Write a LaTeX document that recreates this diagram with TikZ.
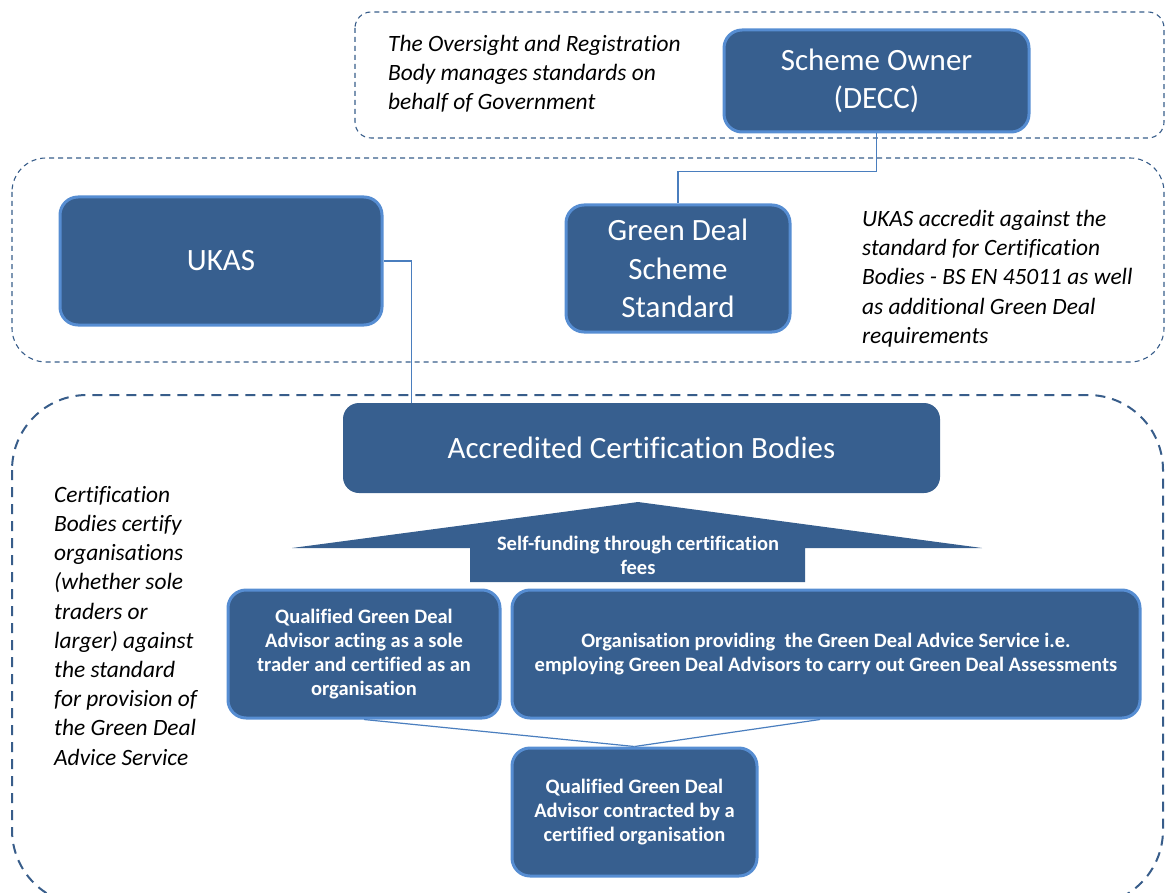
\documentclass[tikz,border=0pt]{standalone}
\usepackage{fontspec}
\setmainfont{Carlito}[Ligatures=NoCommon]
\begin{document}
\begin{tikzpicture}[x=1pt,y=-1pt,
  dk/.style={fill=boxblue,draw=edgeblue,line width=3pt,rounded corners=18pt,text=white,align=center,inner sep=0pt,outer sep=1.5pt},
  plain/.style={fill=boxblue,rounded corners=16pt,text=white,align=center,inner sep=0pt},
  big/.style={font=\fontsize{31}{38.5}\selectfont},
  small/.style={font=\fontsize{20.5}{24}\selectfont\bfseries},
  note/.style={font=\fontsize{23.4}{29.2}\selectfont\itshape,align=left,anchor=north west,inner sep=0pt},
  thindash/.style={draw=dashblue,line width=1.1pt,dash pattern=on 5pt off 4pt},
  thickdash/.style={draw=dashblue,line width=2pt,dash pattern=on 10pt off 7pt},
  conn/.style={draw=lineblue,line width=1.2pt}]
\definecolor{boxblue}{RGB}{55,95,143}
\definecolor{edgeblue}{RGB}{86,141,210}
\definecolor{dashblue}{RGB}{56,93,138}
\definecolor{lineblue}{RGB}{74,126,190}
\useasboundingbox (0,0) rectangle (1166,893);
% dashed group boxes
\begin{scope}
\clip (0,0) rectangle (1166,893);
\draw[thindash,rounded corners=16pt] (355,12) rectangle (1164,138);
\draw[thindash,rounded corners=34pt] (12,158) rectangle (1164,362);
\draw[thickdash,rounded corners=75pt] (12,395) rectangle (1163,905);
\end{scope}
% notes
\node[note] (n1) at (388,35) {The Oversight and Registration\\Body manages standards on\\behalf of Government};
\node[note] (n2) at (862,210) {UKAS accredit against the\\standard for Certification\\Bodies - BS EN 45011 as well\\as additional Green Deal\\requirements};
\node[note] (n3) at (54,486) {Certification\\Bodies certify\\organisations\\(whether sole\\traders or\\larger) against\\the standard\\for provision of\\the Green Deal\\Advice Service};
% boxes
\node[dk,big,minimum width=305pt,minimum height=102pt] (owner) at (876.5,81) {Scheme Owner\\(DECC)};
\node[dk,big,minimum width=322pt,minimum height=128pt] (ukas) at (221,261) {UKAS};
\node[dk,big,minimum width=224pt,minimum height=127pt] (gds) at (678,268.5) {Green Deal\\Scheme\\Standard};
\node[plain,big,minimum width=597pt,minimum height=90pt] (acb) at (641.5,448) {Accredited Certification Bodies};
% arrow
\fill[boxblue] (292,548) -- (638,502) -- (982,548) -- (805,548) -- (805,582) -- (470,582) -- (470,548) -- cycle;
\node[small,text=white,align=center] (fees) at (638,555) {Self-funding through certification\\fees};
\node[dk,small,minimum width=272pt,minimum height=128pt] (sole) at (364,654) {Qualified Green Deal\\Advisor acting as a sole\\trader and certified as an\\organisation};
\node[dk,small,minimum width=628pt,minimum height=128pt] (org) at (826,654) {Organisation providing\ \ the Green Deal Advice Service i.e.\\employing Green Deal Advisors to carry out Green Deal Assessments};
\node[dk,small,minimum width=245pt,minimum height=128pt] (qgda) at (634.5,812) {Qualified Green Deal\\Advisor contracted by a\\certified organisation};
% connectors
\draw[conn] (owner.south) -- ++(0,38) -| (gds.north);
\draw[conn] (ukas.east) -- ++(28,0) coordinate (uk) -- (uk |- acb.north);
\draw[conn] (sole.south) -- (qgda.north);
\draw[conn] ([xshift=-6pt]org.south) -- (qgda.north);
\end{tikzpicture}
\end{document}
